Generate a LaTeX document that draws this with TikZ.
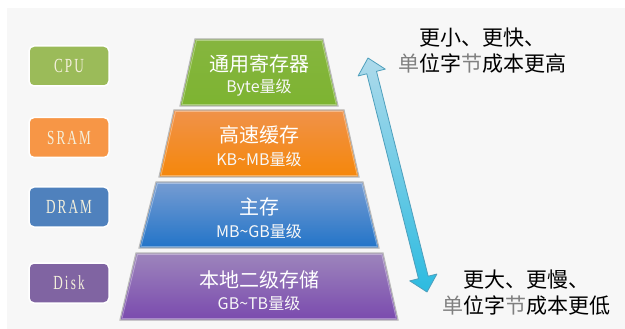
\documentclass[tikz,border=0pt]{standalone}
\usepackage{fontspec}
\setmainfont{Noto Sans CJK SC}
\newfontfamily\boxfont[LetterSpace=16]{Liberation Serif}
\definecolor{bg}{HTML}{F7F7F7}
\definecolor{cpuc}{HTML}{9BBB59}
\definecolor{sramc}{HTML}{F79646}
\definecolor{dramc}{HTML}{4F81BD}
\definecolor{diskc}{HTML}{8064A2}
\definecolor{boxtext}{HTML}{F4F0DC}
\definecolor{gA}{HTML}{86B53F}
\definecolor{gB}{HTML}{648F22}
\definecolor{gC}{HTML}{7DB431}
\definecolor{oA}{HTML}{F0924A}
\definecolor{oB}{HTML}{DC6A18}
\definecolor{oC}{HTML}{F5870A}
\definecolor{bA}{HTML}{769CD2}
\definecolor{bB}{HTML}{2A5894}
\definecolor{bC}{HTML}{2274C8}
\definecolor{pA}{HTML}{9D85BC}
\definecolor{pB}{HTML}{573A78}
\definecolor{pC}{HTML}{7A4AAE}
\definecolor{arA}{HTML}{AEDAEB}
\definecolor{arB}{HTML}{338CAD}
\definecolor{arC}{HTML}{2CBBE0}
\definecolor{arE}{HTML}{4E9FBC}
\begin{document}
\begin{tikzpicture}[x=1pt,y=-1pt,
  lbox/.style={draw=white, line width=1.5pt, rounded corners=5pt,
    minimum width=80pt, minimum height=40pt, inner sep=0pt, text=boxtext,
    font=\boxfont\fontsize{20}{20}\selectfont},
  layer/.style={draw=gray!55, line width=1.2pt},
  ttl/.style={text=white, inner sep=0pt, font=\fontsize{20}{20}\selectfont},
  sub/.style={text=white!94!gray, inner sep=0pt, font=\fontsize{16}{16}\selectfont},
  rtext/.style={text=black, align=center, inner sep=0pt, font=\fontsize{21}{26}\selectfont}
]
\useasboundingbox (0,0) rectangle (625,329);
\fill[white] (0,0) rectangle (625,329);
\fill[bg] (7,8) rectangle (625,329);

% left labels
\node[lbox, fill=cpuc]  (cpu)  at (69,66)    {\scalebox{0.66}[1]{CPU}};
\node[lbox, fill=sramc] (sram) at (69,137.5) {\scalebox{0.66}[1]{SRAM}};
\node[lbox, fill=dramc] (dram) at (69,207)   {\scalebox{0.66}[1]{DRAM}};
\node[lbox, fill=diskc] (disk) at (69,283)   {\scalebox{0.66}[1]{Disk}};

% pyramid layers
\shade[layer, top color=gA, middle color=gB, bottom color=gC]
  (195,39) -- (323,39) -- (338,106) -- (180,106) -- cycle;
\shade[layer, top color=oA, middle color=oB, bottom color=oC]
  (174,110) -- (344,110) -- (359,177) -- (159,177) -- cycle;
\shade[layer, top color=bA, middle color=bB, bottom color=bC]
  (156,182) -- (363,182) -- (379,248) -- (139,248) -- cycle;
\shade[layer, top color=pA, middle color=pB, bottom color=pC]
  (136,253) -- (383,253) -- (398,320) -- (120,320) -- cycle;
% inner highlights
\draw[white, opacity=0.35, line width=0.8pt] (196.5,40.5) -- (321.8,40.5) -- (336.2,104.5) -- (182,104.5) -- cycle;
\draw[white, opacity=0.35, line width=0.8pt] (175.5,111.5) -- (342.8,111.5) -- (357.2,175.5) -- (161,175.5) -- cycle;
\draw[white, opacity=0.35, line width=0.8pt] (157.5,183.5) -- (361.8,183.5) -- (377.2,246.5) -- (141,246.5) -- cycle;
\draw[white, opacity=0.35, line width=0.8pt] (137.5,254.5) -- (381.8,254.5) -- (396.2,318.5) -- (122,318.5) -- cycle;

\node[ttl] (reg)  at (259,64)  {通用寄存器};
\node[sub] (regs) at (259,88)  {Byte量级};
\node[ttl] (cache)  at (259,135) {高速缓存};
\node[sub] (caches) at (259,159) {KB\textasciitilde MB量级};
\node[ttl] (mem)  at (259,207) {主存};
\node[sub] (mems) at (259,231) {MB\textasciitilde GB量级};
\node[ttl] (stor)  at (259,280) {本地二级存储};
\node[sub] (stors) at (259,303) {GB\textasciitilde TB量级};

% double arrow
\coordinate (arrTop) at (368,58);
\coordinate (arrBot) at (427,292);
\shade[top color=arA, middle color=arB, bottom color=arC, draw=arE, line width=0.8pt, line join=round]
  (arrTop) -- (385.25,69.13) -- (376.52,71.33) -- (428.18,276.23) -- (436.91,274.03)
  -- (arrBot) -- (409.75,280.87) -- (418.48,278.67) -- (366.82,73.77) -- (358.09,75.97) -- cycle;

% right texts
\node[rtext] (fast) at (482,51)  {更小、更快、\\\textcolor{black!50}{单}位字\textcolor{black!50}{节}成本更高};
\node[rtext] (slow) at (526,293) {更大、更慢、\\\textcolor{black!50}{单}位字\textcolor{black!50}{节}成本更低};
\end{tikzpicture}
\end{document}
